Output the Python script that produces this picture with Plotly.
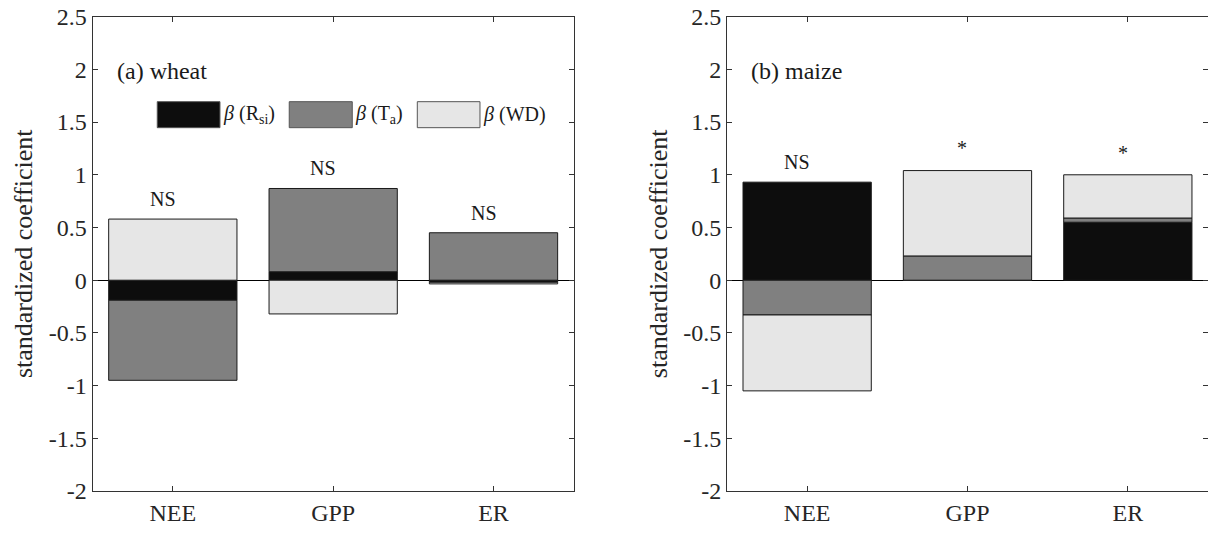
import plotly.graph_objects as go
from plotly.subplots import make_subplots

categories = ["NEE", "GPP", "ER"]
series_names = ["β (R<sub>si</sub>)", "β (T<sub>a</sub>)", "β (WD)"]

# (a) wheat
wheat_rsi = [-0.19, 0.08, -0.02]
wheat_ta = [-0.76, 0.79, 0.45]
wheat_wd = [0.58, -0.32, -0.015]
wheat_sig = ["NS", "NS", "NS"]

# (b) maize
maize_rsi = [0.93, 0.0, 0.55]
maize_ta = [-0.33, 0.23, 0.04]
maize_wd = [-0.72, 0.81, 0.41]
maize_sig = ["NS", "*", "*"]

y_tickvals = [-2, -1.5, -1, -0.5, 0, 0.5, 1, 1.5, 2, 2.5]
y_ticktext = ["-2", "-1.5", "-1", "-0.5", "0", "0.5", "1", "1.5", "2", "2.5"]

colors = ["#0d0d0d", "#808080", "#e6e6e6"]
FONT = "Liberation Serif, Times New Roman, serif"

fig = make_subplots(rows=1, cols=2)

panels = [
    (1, [wheat_rsi, wheat_ta, wheat_wd], wheat_sig, "(a) wheat"),
    (2, [maize_rsi, maize_ta, maize_wd], maize_sig, "(b) maize"),
]

for col, series, sig, label in panels:
    for name, vals, c in zip(series_names, series, colors):
        fig.add_trace(go.Bar(
            x=categories, y=vals, name=name, width=0.8,
            marker=dict(color=c, line=dict(color="#1a1a1a", width=1)),
            showlegend=False,
        ), row=1, col=col)
    xref = "x" if col == 1 else "x2"
    yref = "y" if col == 1 else "y2"
    for i, cat in enumerate(categories):
        top = sum(v[i] for v in series if v[i] > 0)
        s = sig[i]
        fig.add_annotation(
            x=cat, y=top + (0.19 if s == "NS" else 0.21), xref=xref, yref=yref, text=s,
            showarrow=False, xshift=-10 if s == "NS" else -5,
            yanchor="middle",
            font=dict(family=FONT, size=20, color="#1a1a1a"),
        )
    fig.add_annotation(
        x=0.046, y=0.886, xref=xref + " domain", yref=yref + " domain",
        text=label, showarrow=False, xanchor="left", yanchor="middle",
        font=dict(family=FONT, size=24, color="#1a1a1a"),
    )

# legend drawn inside panel (a)
sw_x0 = [0.1343, 0.4087, 0.6749]
sw_x1 = [0.2647, 0.5397, 0.8052]
for name, c, x0, x1 in zip(series_names, colors, sw_x0, sw_x1):
    fig.add_shape(type="rect", xref="x domain", yref="y domain",
                  x0=x0, x1=x1, y0=0.766, y1=0.8208,
                  fillcolor=c, line=dict(color="#555555", width=1))
    fig.add_annotation(x=x1 + 0.002, y=0.7934, xref="x domain", yref="y domain",
                       text=name.replace("β", "<i>β</i>"), showarrow=False,
                       xanchor="left", yanchor="middle",
                       font=dict(family=FONT, size=20, color="#1a1a1a"))

axis_common = dict(
    showline=True, linecolor="#333333", linewidth=1, mirror="ticks",
    ticks="inside", ticklen=5, tickcolor="#333333",
    showgrid=False,
    tickfont=dict(family=FONT, size=24, color="#262626"),
)

xdomains = [[0.0767, 0.4749], [0.6018, 1.0]]
for i, dom in enumerate(xdomains):
    xa = "xaxis" if i == 0 else "xaxis2"
    ya = "yaxis" if i == 0 else "yaxis2"
    fig.layout[xa].update(domain=dom, range=[-0.5, 2.5], zeroline=False,
                          automargin=False, **axis_common)
    fig.layout[ya].update(
        domain=[0.0788, 0.9687], range=[-2, 2.5],
        tickvals=y_tickvals, ticktext=y_ticktext,
        zeroline=True, zerolinecolor="#000000", zerolinewidth=1,
        automargin=False,
        title=dict(text="standardized coefficient", standoff=8,
                   font=dict(family=FONT, size=26, color="#262626")),
        **axis_common)

fig.update_layout(
    barmode="relative",
    width=1208, height=533,
    margin=dict(l=0, r=0, t=0, b=0),
    plot_bgcolor="white", paper_bgcolor="white",
    font=dict(family=FONT),
)

fig.write_html("out.html",
               config={"displayModeBar": False},
               post_script="document.body.style.margin='0';document.body.style.overflow='hidden';")
